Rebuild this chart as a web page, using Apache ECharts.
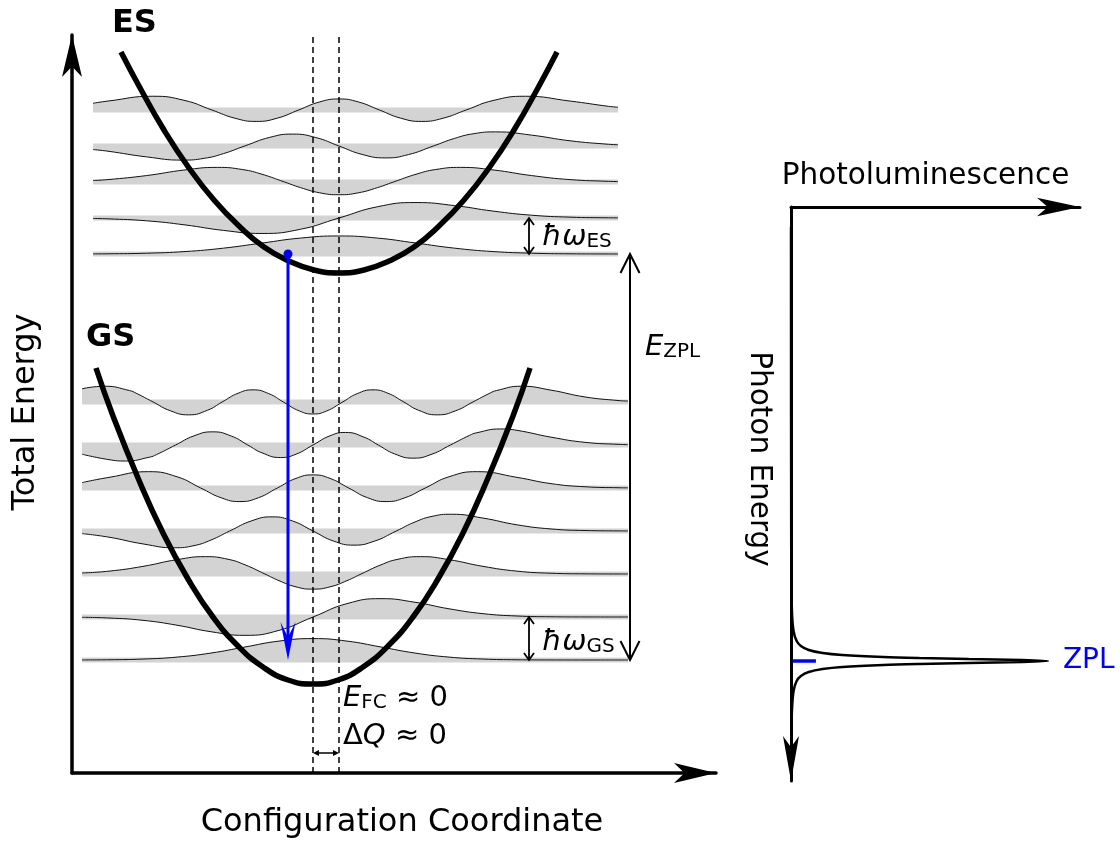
<!DOCTYPE html>
<html>
<head>
<meta charset="utf-8">
<script src="https://cdn.jsdelivr.net/npm/echarts@6/dist/echarts.min.js"></script>
<style>html,body{margin:0;padding:0;background:#fff}#c{width:1120px;height:841px}</style>
</head>
<body>
<div id="c"></div>
<script>
// ---------- data (arbitrary units) ----------
// Configuration-coordinate diagram
const esLevels = [5.19, 5.55, 5.91, 6.27, 6.63];            // excited-state vibrational levels
const gsLevels = [1.13, 1.56, 1.99, 2.42, 2.85, 3.28, 3.71]; // ground-state vibrational levels
const esMin = [2.67, 5.00];   // [Q, E] of ES parabola minimum
const gsMin = [2.41, 0.89];   // [Q, E] of GS parabola minimum
const esSpan = [0.21, 5.46];  // Q extent of ES level lines
const gsSpan = [0.10, 5.56];  // Q extent of GS level lines
const esWidth = 0.77, gsWidth = 0.68;   // oscillator length (Q units)
const esAmp = 0.24, gsAmp = 0.285;      // drawn wavefunction amplitude (E units)

const esCurveQ = [0.49, 0.67, 0.92, 1.17, 1.42, 1.67, 1.92, 2.17, 2.42, 2.67, 2.92, 3.17, 3.42, 3.67, 3.92, 4.17, 4.42, 4.67, 4.85];
const esCurveE = [7.21, 6.87, 6.43, 6.05, 5.73, 5.47, 5.26, 5.12, 5.03, 5.00, 5.03, 5.12, 5.26, 5.47, 5.73, 6.05, 6.43, 6.87, 7.21];
const gsCurveQ = [0.24, 0.41, 0.66, 0.91, 1.16, 1.41, 1.66, 1.91, 2.16, 2.41, 2.66, 2.91, 3.16, 3.41, 3.66, 3.91, 4.16, 4.41, 4.58];
const gsCurveE = [4.05, 3.57, 2.95, 2.40, 1.94, 1.56, 1.27, 1.06, 0.93, 0.89, 0.93, 1.06, 1.27, 1.56, 1.94, 2.40, 2.95, 3.57, 4.05];

// wavefunction shapes, [xi, psi] for xi >= 0 (mirrored with parity (-1)^n)
const waveShapes = [
  [[0,0.751],[0.5,0.663],[1,0.456],[1.5,0.244],[2,0.102],[2.5,0.033],[3,0.008],[3.5,0.0016],[4,0.0003]],
  [[0,0],[0.5,0.469],[1,0.644],[1.5,0.517],[2,0.288],[2.5,0.117],[3,0.035],[3.5,0.008],[4,0.0014]],
  [[0,-0.531],[0.25,-0.451],[0.5,-0.234],[0.707,0],[1,0.322],[1.25,0.517],[1.581,0.609],[2,0.503],[2.5,0.268],[3,0.100],[3.5,0.027],[4,0.0055],[4.5,0.0008]],
  [[0,0],[0.3,-0.351],[0.602,-0.496],[0.9,-0.359],[1.225,0],[1.5,0.317],[1.75,0.513],[2.034,0.588],[2.5,0.453],[3,0.217],[3.5,0.0715],[4,0.0169],[4.5,0.003]],
  [[0,0.460],[0.25,0.337],[0.525,0],[0.8,-0.339],[1.075,-0.476],[1.35,-0.344],[1.651,0],[2,0.394],[2.418,0.573],[3,0.373],[3.5,0.153],[4,0.043],[4.5,0.0086],[5,0.0013]],
  [[0,0],[0.25,0.323],[0.476,0.440],[0.75,0.275],[0.959,0],[1.2,-0.312],[1.475,-0.462],[1.75,-0.321],[2.02,0],[2.3,0.335],[2.4,0.425],[2.756,0.5625],[3,0.514],[3.5,0.275],[4,0.0935],[4.5,0.022],[5,0.0036]],
  [[0,-0.420],[0.2,-0.315],[0.436,0],[0.65,0.293],[0.882,0.426],[1.1,0.309],[1.336,0],[1.55,-0.288],[1.829,-0.451],[2.1,-0.305],[2.351,0],[2.6,0.308],[2.7,0.403],[3.062,0.554],[3.5,0.416],[4,0.177],[4.5,0.049],[5,0.0094]]
];
// psi at the left / right ends of each level line
const esWaveEnds = [[0.0046,0.001],[-0.021,0.0055],[0.063,0.019],[-0.148,0.052],[0.279,0.117]];
const gsWaveEnds = [[0.0023,0],[-0.011,0.0001],[0.036,0.0005],[-0.092,0.0018],[0.189,0.0054],[-0.324,0.014],[0.464,0.033]];

// emission (ES n=0 -> GS n=0) and annotation arrows: [Q1, E1, Q2, E2, kind]
const emissionQ = 2.16;
const arrowSpans = [
  [5.58, gsLevels[0], 5.58, esLevels[0], 0],   // E_ZPL
  [4.57, esLevels[0], 4.57, esLevels[1], 1],   // hbar omega ES
  [4.57, gsLevels[0], 4.57, gsLevels[1], 1],   // hbar omega GS
  [gsMin[0], 0.20, esMin[0], 0.20, 2],         // Delta Q
  [emissionQ, esLevels[0], emissionQ, gsLevels[0], 3]  // emission
];

// Photoluminescence spectrum (photon energy, normalised intensity)
const plEnergy = [0.20, 3.54, 4.04, 4.24, 4.34, 4.39, 4.43, 4.46, 4.48, 4.50, 4.51, 4.52, 4.53, 4.54, 4.55, 4.56, 4.57, 4.58, 4.60, 4.62, 4.65, 4.69, 4.74, 4.84, 5.04, 5.34];
const plIntensity = [0, 0.0009, 0.0036, 0.0099, 0.022, 0.0385, 0.069, 0.123, 0.2, 0.36, 0.5, 0.692, 0.9, 1, 0.9, 0.692, 0.5, 0.36, 0.2, 0.123, 0.069, 0.0385, 0.022, 0.0099, 0.0036, 0.0009];
const zplEnergy = 4.54;
const zplTick = [0.0066, 0.097];

// ---------- chart ----------
const FONT = 'DejaVu Sans';
const GRAY = '#d3d3d3';
const BLUE = '#0000ff';

function wavePoints(n, level, cQ, w, span, ends, amp) {
  const table = waveShapes[n];
  const sign = n % 2 ? -1 : 1;
  const xiL = (cQ - span[0]) / w;
  const xiR = (span[1] - cQ) / w;
  const pts = [[span[0], level + amp * ends[0]]];
  for (let i = table.length - 1; i > 0; i--) {
    if (table[i][0] < xiL - 0.05) pts.push([cQ - w * table[i][0], level + amp * sign * table[i][1]]);
  }
  for (let i = 0; i < table.length; i++) {
    if (table[i][0] < xiR - 0.05) pts.push([cQ + w * table[i][0], level + amp * table[i][1]]);
  }
  pts.push([span[1], level + amp * ends[1]]);
  return pts;
}

const series = [];
function addLevels(levels, cQ, w, span, ends, amp) {
  levels.forEach((lv, n) => {
    series.push({
      type: 'line', xAxisIndex: 0, yAxisIndex: 0, z: 1, silent: true,
      symbol: 'none', data: [[span[0], lv], [span[1], lv]],
      lineStyle: { color: GRAY, width: 5 }
    });
    series.push({
      type: 'line', xAxisIndex: 0, yAxisIndex: 0, z: 2, silent: true,
      symbol: 'none', smooth: 0.5,
      data: wavePoints(n, lv, cQ, w, span, ends[n], amp),
      lineStyle: { color: '#111', width: 1 },
      areaStyle: { origin: lv, color: GRAY, opacity: 1 }
    });
  });
}
addLevels(esLevels, esMin[0], esWidth, esSpan, esWaveEnds, esAmp);
addLevels(gsLevels, gsMin[0], gsWidth, gsSpan, gsWaveEnds, gsAmp);

// dashed guide lines at the two minima
[gsMin[0], esMin[0]].forEach(q => {
  series.push({
    type: 'line', z: 3, silent: true, symbol: 'none',
    data: [[q, 0], [q, 7.38]],
    lineStyle: { color: '#000', width: 1.5, type: [6, 4] }
  });
});

// parabolas
series.push({
  type: 'line', z: 4, silent: true, symbol: 'none', smooth: 0.5,
  data: esCurveQ.map((q, i) => [q, esCurveE[i]]),
  lineStyle: { color: '#000', width: 5.5, cap: 'butt' }
});
series.push({
  type: 'line', z: 4, silent: true, symbol: 'none', smooth: 0.5,
  data: gsCurveQ.map((q, i) => [q, gsCurveE[i]]),
  lineStyle: { color: '#000', width: 5.5, cap: 'butt' }
});

// arrows
const arrowKinds = [
  { color: '#000', width: 2, head: 'open', L: 19, W: 9.5, both: true },
  { color: '#000', width: 1.8, head: 'open', L: 7, W: 5, both: true },
  { color: '#000', width: 1.5, head: 'fill', L: 6, W: 3, notch: 1, both: true },
  { color: BLUE, width: 3, head: 'fill', L: 38, W: 7.5, notch: 0.6, both: false }
];
series.push({
  type: 'custom', z: 5, silent: true, xAxisIndex: 0, yAxisIndex: 0,
  data: arrowSpans,
  renderItem(params, api) {
    const a = api.coord([api.value(0), api.value(1)]);
    const b = api.coord([api.value(2), api.value(3)]);
    const k = arrowKinds[api.value(4)];
    const dx = b[0] - a[0], dy = b[1] - a[1];
    const len = Math.hypot(dx, dy);
    const ux = dx / len, uy = dy / len, nx = -uy, ny = ux;
    const children = [];
    function head(t, sx, sy) {
      const bx = t[0] - sx * k.L, by = t[1] - sy * k.L;
      if (k.head === 'open') {
        children.push({ type: 'polyline', shape: { points: [[bx + nx * k.W, by + ny * k.W], t, [bx - nx * k.W, by - ny * k.W]] },
          style: { stroke: k.color, lineWidth: k.width, fill: null } });
        return t;
      }
      const m = [t[0] - sx * k.L * k.notch, t[1] - sy * k.L * k.notch];
      children.push({ type: 'polygon', shape: { points: [t, [bx + nx * k.W, by + ny * k.W], m, [bx - nx * k.W, by - ny * k.W]] },
        style: { fill: k.color } });
      return [t[0] - sx * k.L * 0.5 * k.notch, t[1] - sy * k.L * 0.5 * k.notch];
    }
    const end = head(b, ux, uy);
    const start = k.both ? head(a, -ux, -uy) : a;
    children.unshift({ type: 'line', shape: { x1: start[0], y1: start[1], x2: end[0], y2: end[1] },
      style: { stroke: k.color, lineWidth: k.width } });
    return { type: 'group', children };
  }
});
series.push({
  type: 'scatter', z: 6, silent: true, symbolSize: 9,
  data: [[emissionQ, esLevels[0]]], itemStyle: { color: BLUE, opacity: 1 }
});

// PL spectrum
series.push({
  type: 'line', xAxisIndex: 1, yAxisIndex: 1, z: 4, silent: true, symbol: 'none', smooth: 0.3,
  data: plEnergy.map((e, i) => [plIntensity[i], e]),
  lineStyle: { color: '#000', width: 2.5 }
});
series.push({
  type: 'line', xAxisIndex: 1, yAxisIndex: 1, z: 5, silent: true, symbol: 'none',
  data: [[zplTick[0], zplEnergy], [zplTick[1], zplEnergy]],
  lineStyle: { color: BLUE, width: 3.5 }
});
series.push({
  type: 'scatter', xAxisIndex: 1, yAxisIndex: 1, z: 5, silent: true, symbolSize: 0,
  data: [[1, zplEnergy]], itemStyle: { opacity: 1, color: BLUE },
  label: { show: true, position: 'right', distance: 15, formatter: 'ZPL', color: BLUE, fontSize: 28, fontFamily: FONT }
});

function axisLine(sym, size, width) {
  return { show: true, onZero: false, symbol: sym, symbolSize: size,
    lineStyle: { color: '#000', width: width } };
}
const hidden = { axisTick: { show: false }, axisLabel: { show: false }, splitLine: { show: false } };

const rich = {
  it: { fontSize: 29, fontStyle: 'italic', fontFamily: FONT, lineHeight: 30, color: '#000' },
  n: { fontSize: 29, fontFamily: FONT, lineHeight: 30, color: '#000' },
  sub: { fontSize: 20, fontFamily: FONT, lineHeight: 13, verticalAlign: 'bottom', color: '#000' }
};
function txt(x, y, text, o) {
  o = o || {};
  return { type: 'text', x, y, rotation: o.rot || 0, silent: true, z: 10,
    style: { text, fill: o.color || '#000', fontSize: o.size || 30, fontFamily: FONT,
      fontWeight: o.weight || 'normal', align: o.align || 'center', verticalAlign: 'middle', rich: o.rich } };
}

const option = {
  animation: false,
  backgroundColor: '#fff',
  grid: [
    { left: 72, top: 35, width: 644, height: 738 },
    { left: 791, top: 207, width: 289, height: 574 }
  ],
  xAxis: [
    Object.assign({ gridIndex: 0, type: 'value', min: 0, max: 6.44, axisLine: axisLine(['none', 'arrow'], [15, 42], 3.5) }, hidden),
    Object.assign({ gridIndex: 1, type: 'value', position: 'top', min: 0, max: 1.125,
      axisLine: axisLine(['none', 'arrow'], [14, 43], 3) }, hidden)
  ],
  yAxis: [
    Object.assign({ gridIndex: 0, type: 'value', min: 0, max: 7.38, axisLine: axisLine(['none', 'arrow'], [15, 42], 3.5) }, hidden),
    Object.assign({ gridIndex: 1, type: 'value', inverse: true, min: 0, max: 5.74,
      axisLine: axisLine(['arrow', 'none'], [12, 45], 3) }, hidden)
  ],
  graphic: [
    txt(112, 24, 'ES', { size: 32, weight: 'bold', align: 'left' }),
    txt(86, 338, 'GS', { size: 32, weight: 'bold', align: 'left' }),
    txt(26, 412, 'Total Energy', { rot: Math.PI / 2, size: 32 }),
    txt(402, 823, 'Configuration Coordinate', { size: 32 }),
    txt(925.5, 176.5, 'Photoluminescence', { size: 29.5 }),
    txt(759, 459, 'Photon Energy', { rot: -Math.PI / 2, size: 29.5 }),
    txt(645, 347, '{it|E}{sub|ZPL}', { align: 'left', rich }),
    txt(542, 237, '{it|ħω}{sub|ES}', { align: 'left', rich }),
    txt(542, 642, '{it|ħω}{sub|GS}', { align: 'left', rich }),
    txt(343, 698, '{it|E}{sub|FC}{n| ≈ 0}', { align: 'left', rich }),
    txt(343, 736, '{n|Δ}{it|Q}{n| ≈ 0}', { align: 'left', rich })
  ],
  series
};
const chart = echarts.init(document.getElementById('c'), null, { renderer: 'canvas' });
chart.setOption(option);
</script>
</body>
</html>
